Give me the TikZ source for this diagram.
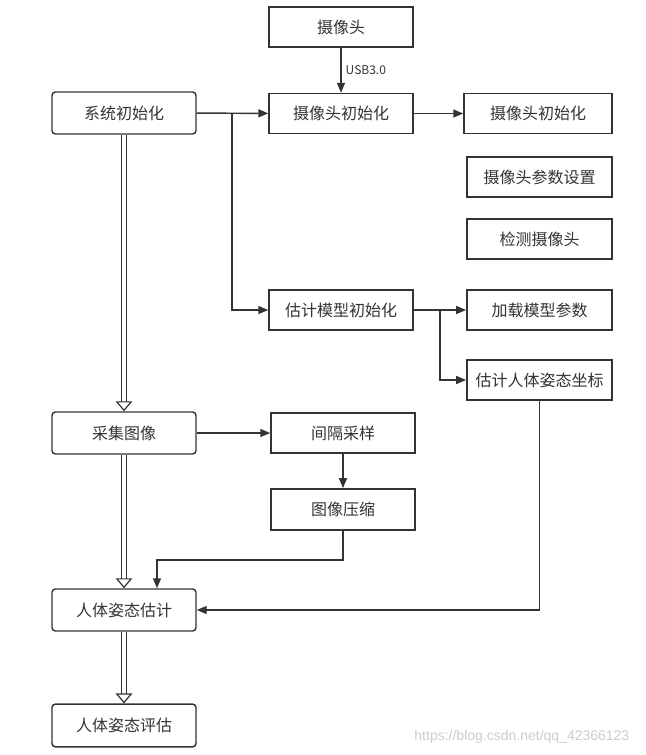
\documentclass[tikz,border=0pt]{standalone}
\usepackage{fontspec}
\newfontfamily\cjkfont{Noto Sans CJK SC}
\newfontfamily\markfont{Liberation Sans}
\usetikzlibrary{arrows.meta,calc}
\begin{document}
\begin{tikzpicture}[x=0.75pt,y=0.75pt,yscale=-1,xscale=1,
	every node/.style={font=\cjkfont\fontsize{12}{14}\selectfont, text={rgb, 255:red, 51; green, 51; blue, 51}},
	box/.style={draw={rgb, 255:red, 51; green, 51; blue, 51}, line width=1.1pt, fill=white, inner sep=0pt, minimum width=108pt, minimum height=30pt},
	rbox/.style={box, rounded corners=2.5pt, minimum height=31.5pt},
	flow/.style={draw={rgb, 255:red, 51; green, 51; blue, 51}, line width=1.1pt, -{Triangle[length=7.5pt,width=6pt]}},
	hollow/.style={draw={rgb, 255:red, 51; green, 51; blue, 51}, line width=0.9pt, double=white, double distance=3pt, -{Triangle[open,length=7.5pt,width=12.5pt]}}]
		%uncomment if require: \path (0,755); %set diagram left start at 0, and has height of 755
		\useasboundingbox (0,0) rectangle (645,755);

		% Text Node
		\node [box] (cam) at (341,27) {摄像头};
		% Text Node
		\node [box] (camInit) at (341,113.5) {摄像头初始化};
		% Text Node
		\node [box, minimum width=111pt] (camInitB) at (538,113.5) {摄像头初始化};
		% Text Node
		\node [rbox] (sysInit) at (124,113) {系统初始化};
		% Text Node
		\node [box, minimum width=109pt] (camParam) at (539.5,177) {摄像头参数设置};
		% Text Node
		\node [box, minimum width=109pt] (camCheck) at (539.5,239) {检测摄像头};
		% Text Node
		\node [box] (modelInit) at (341,310) {估计模型初始化};
		% Text Node
		\node [box, minimum width=109pt] (loadParam) at (539.5,310) {加载模型参数};
		% Text Node
		\node [box, minimum width=109pt] (poseCoord) at (539.5,380) {估计人体姿态坐标};
		% Text Node
		\node [rbox] (capture) at (124,433) {采集图像};
		% Text Node
		\node [box] (sample) at (343,433) {间隔采样};
		% Text Node
		\node [box, minimum height=31pt] (compress) at (343,509.5) {图像压缩};
		% Text Node
		\node [rbox] (poseEst) at (124,610) {人体姿态估计};
		% Text Node
		\node [rbox, minimum height=32pt] (poseEval) at (124,725.5) {人体姿态评估};
		% Text Node
		\node [font=\markfont\fontsize{10.5}{12}\selectfont, text={rgb, 255:red, 204; green, 204; blue, 204}, anchor=east] (mark) at (634,737) {https://blog.csdn.net/qq\_42366123};

		\coordinate (splitA) at (232,113.5);
		\coordinate (splitB) at (440,310);

		%Straight Lines
		\draw [flow] (cam) -- node [right, font=\cjkfont\fontsize{9}{10}\selectfont, inner sep=3pt] (usb) {USB3.0} (camInit);
		%Straight Lines
		\draw [flow] (sysInit) -- (camInit);
		%Straight Lines
		\draw [flow] (camInit) -- (camInitB);
		%Straight Lines
		\draw [flow] (splitA) |- (modelInit);
		%Straight Lines
		\draw [flow] (modelInit) -- (loadParam);
		%Straight Lines
		\draw [flow] (splitB) |- (poseCoord);
		%Straight Lines
		\draw [flow] (poseCoord) |- (poseEst);
		%Straight Lines
		\draw [flow] (capture) -- (sample);
		%Straight Lines
		\draw [flow] (sample) -- (compress);
		%Straight Lines
		\draw [flow] (compress.south) -- ++(0,29) -| ($(poseEst.north)+(33,0)$);

		%Double Lines
		\draw [hollow] (sysInit) -- (capture);
		%Double Lines
		\draw [hollow] (capture) -- (poseEst);
		%Double Lines
		\draw [hollow] (poseEst) -- (poseEval);

\end{tikzpicture}
\end{document}
